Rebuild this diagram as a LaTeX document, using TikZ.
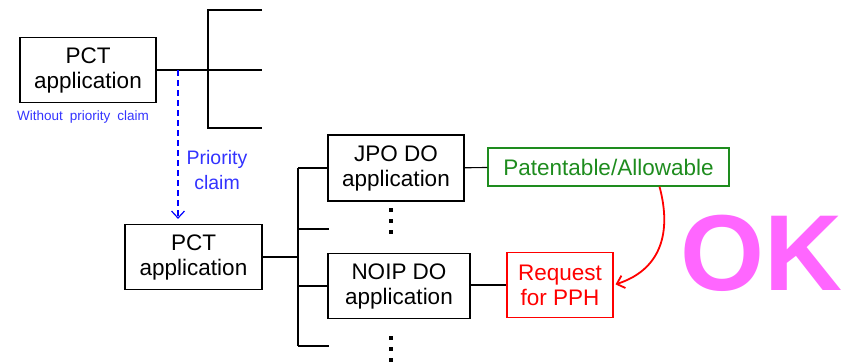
\documentclass[tikz,border=0pt]{standalone}
\usepackage{fontspec}
\setmainfont{Liberation Sans}
\usetikzlibrary{arrows.meta}
\definecolor{priblue}{RGB}{51,51,255}
\definecolor{okgreen}{RGB}{30,140,30}
\definecolor{okpink}{RGB}{255,102,255}
\begin{document}
\begin{tikzpicture}[x=1pt, y=-1pt, line width=1.2pt,
  main box/.style={rectangle,draw,minimum height=65pt,inner sep=0pt,align=center,font=\fontsize{22.5}{25}\selectfont},
  barb/.style={-{Straight Barb[length=7pt,width=13pt]}}]
\useasboundingbox (0,0) rectangle (843,362);
% applications
\node [main box,minimum width=136pt](pct1) at (88,70) {PCT\\application};
\node [main box,minimum width=137pt](pct2) at (193.5,257) {PCT\\application};
\node [main box,minimum width=136pt,minimum height=66pt](jpo) at (396,168) {JPO DO\\application};
\node [main box,minimum width=142pt](noip) at (399,286) {NOIP DO\\application};
\node [main box,draw=okgreen,text=okgreen,minimum width=241pt,minimum height=38pt](allow) at (608.5,167) {Patentable/Allowable};
\node [main box,draw=red,text=red,minimum width=106pt](pph) at (560,285) {Request\\for PPH};
\node [text=okpink,font=\fontsize{108}{108}\selectfont\bfseries](ok) at (761,253) {OK};
% notes
\node [text=priblue,font=\fontsize{13.5}{15}\selectfont](nopri) at (83,117) {\spaceskip=7pt\relax Without priority claim};
\node [text=priblue,align=center,font=\fontsize{19.5}{25}\selectfont](prio) at (217,170) {Priority\\claim};
% free ends
\coordinate (ta) at (262,10);
\coordinate (tb) at (262,70);
\coordinate (tc) at (262,128);
\coordinate (tatop) at (208,10);
\coordinate (tcbot) at (208,128);
\coordinate (bb) at (329,229);
\coordinate (bd) at (329,346);
\coordinate (bjoin) at (298,257);
\coordinate (btop) at (298,168);
\coordinate (bbot) at (298,346);
\coordinate (pbranch) at (178,70);
% tree lines
\draw (pct1) -- (tb);
\draw (ta) -- (tatop) -- (tcbot) -- (tc);
\draw (pct2) -- (bjoin);
\draw (btop) -- (bbot);
\draw (btop) -- (jpo);
\draw (298,229) -- (bb);
\draw (298,286) -- (noip);
\draw (298,346) -- (bd);
\draw (jpo) -- (allow);
\draw (noip.east |- pph) -- (pph);
% omitted branches
\foreach \y in {210,221,232,338,349,360}
  \fill (389.2,\y-1.8) rectangle (392.8,\y+1.8);
% priority claim
\draw [barb,blue,dash pattern=on 6pt off 4pt,shorten >=5pt] (pbranch) -- (pbranch |- pct2.north);
% OK
\draw [barb,red,line width=1.8pt,shorten >=2pt] ([xshift=51pt]allow.south) to[out=-75,in=18,looseness=1.15] (pph.east);
\end{tikzpicture}
\end{document}
